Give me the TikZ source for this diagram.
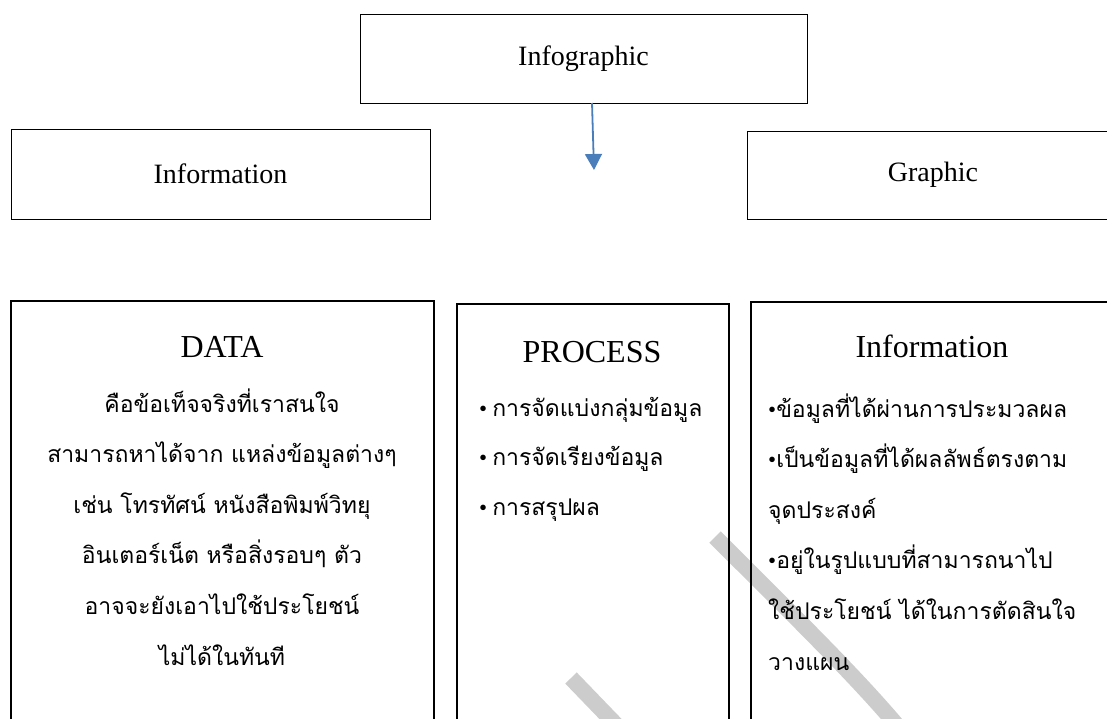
\documentclass[tikz,border=0pt]{standalone}
\usepackage{fontspec}
\setmainfont{Liberation Serif}
\newfontfamily\thaifont[Script=Thai]{Loma}
\usetikzlibrary{arrows.meta,positioning,calc}
\definecolor{arrowblue}{RGB}{74,126,187}
\definecolor{markgray}{RGB}{204,204,204}
\newcommand{\bul}{{\rmfamily\textbullet}}

\begin{document}
\begin{tikzpicture}[
    x=1pt, y=-1pt,
    box/.style={draw, line width=1pt, inner sep=0pt, outer sep=0pt, font=\fontsize{28}{32}\selectfont},
    tallbox/.style={draw, line width=1.6pt, inner sep=0pt, outer sep=0pt},
    head/.style={anchor=base, font=\fontsize{32}{36}\selectfont},
    thai/.style={anchor=base, inner sep=0pt, font=\thaifont\fontsize{23}{27}\selectfont},
    edge/.style={-{Triangle[width=17pt,length=16pt]}, arrowblue, line width=1.8pt},
    stroke/.style={markgray, line width=16pt}
]
\useasboundingbox (0,0) rectangle (1107,718);
\clip (0,0) rectangle (1107,718);

% light strokes behind the boxes
\draw[stroke] (715,537) .. controls (790,612) and (860,680) .. (905,735);
\draw[stroke] (571,678) -- (625,734);

% top row
\node[box, minimum width=447pt, minimum height=89pt] (infographic) at (583.5,58.5) {Infographic};
\node[box, minimum width=419pt, minimum height=90pt] (information) at (220.5,174) {Information};
\node[box, minimum width=372pt, minimum height=88pt] (graphic) at (933,175) {Graphic};
\coordinate (start) at ($(infographic.south)+(8.5,0)$);
\coordinate (tip) at (594,170);
\draw[edge] (start) -- (tip);

% bottom row
\node[tallbox, minimum width=423pt, minimum height=459pt] (data) at (222.5,530.5) {};
\node[tallbox, minimum width=272pt, minimum height=456pt] (process) at (593,532) {};
\node[tallbox, minimum width=362pt, minimum height=458pt] (infobox) at (932,531) {};

\node[head] (datahead) at (222,357) {DATA};
\foreach \txt [count=\i] in {คือข้อเท็จจริงที่เราสนใจ, สามารถหาได้จาก แหล่งข้อมูลต่างๆ,
    เช่น โทรทัศน์ หนังสือพิมพ์วิทยุ, อินเตอร์เน็ต หรือสิ่งรอบๆ ตัว,
    อาจจะยังเอาไปใช้ประโยชน์, ไม่ได้ในทันที}
  \node[thai] (data-\i) at (222,{412+50.6*(\i-1)}) {\txt};

\node[head] (prochead) at (592,362) {PROCESS};
\foreach \txt [count=\i] in {การจัดแบ่งกลุ่มข้อมูล, การจัดเรียงข้อมูล, การสรุปผล}
  \node[thai, anchor=base west] (proc-\i) at (479,{416+49.5*(\i-1)}) {\bul\hspace{5pt}\txt};

\node[head] (infohead) at (932,357) {Information};
\foreach \txt [count=\i] in {\bul ข้อมูลที่ได้ผ่านการประมวลผล, \bul เป็นข้อมูลที่ได้ผลลัพธ์ตรงตาม,
    จุดประสงค์, \bul อยู่ในรูปแบบที่สามารถนาไป, ใช้ประโยชน์ ได้ในการตัดสินใจ, วางแผน}
  \node[thai, anchor=base west] (info-\i) at (768,{417+50.6*(\i-1)}) {\txt};
\end{tikzpicture}
\end{document}
